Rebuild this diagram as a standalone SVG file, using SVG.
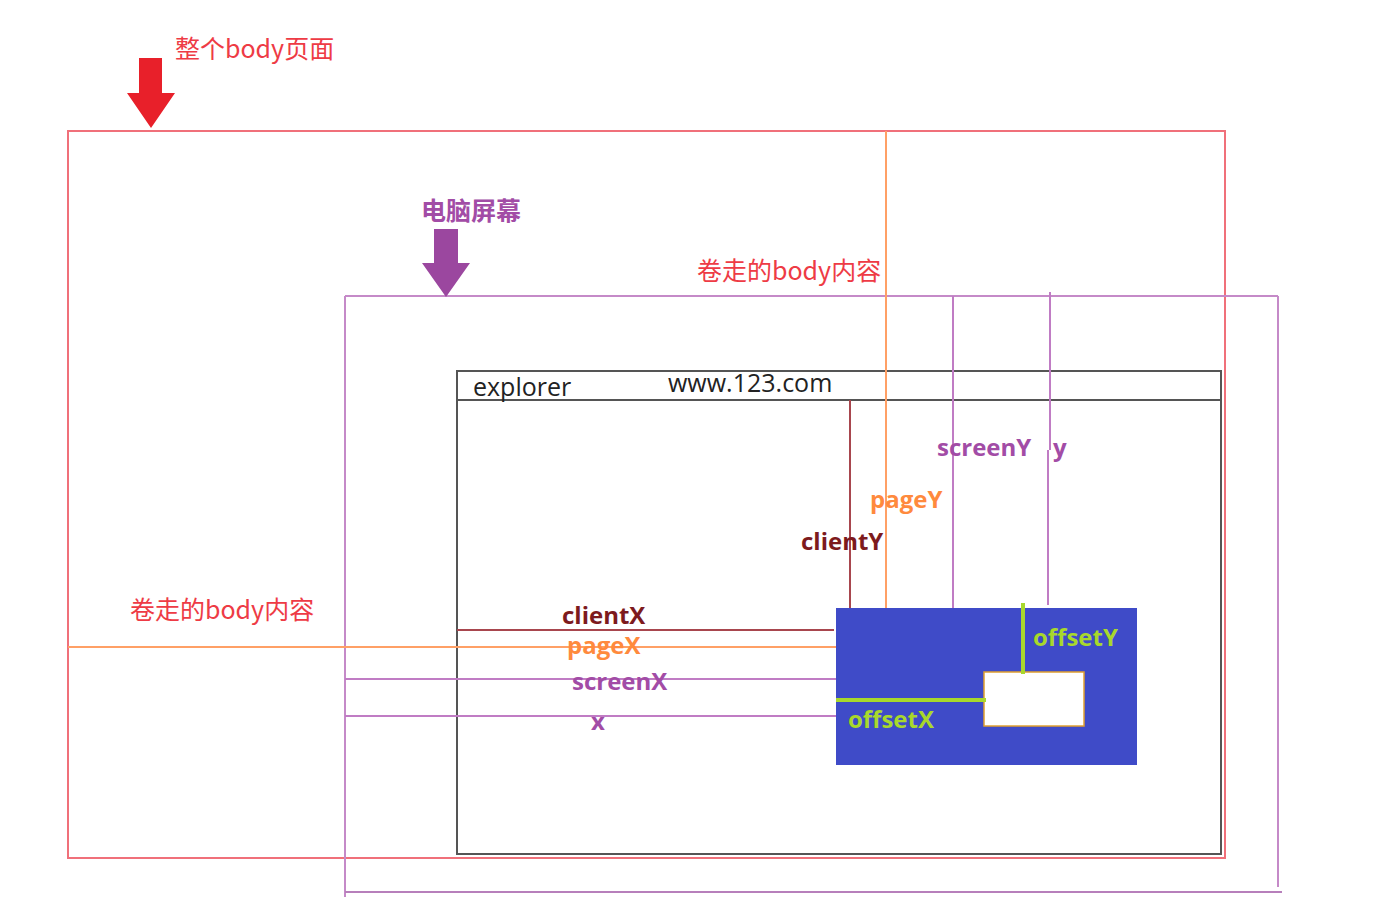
<svg xmlns="http://www.w3.org/2000/svg" width="1392" height="914" viewBox="0 0 1392 914">
<style>
.cn{font-family:"Noto Sans CJK SC","Noto Sans",sans-serif;font-size:25px}
.lb{font-family:"Open Sans","Noto Sans",sans-serif;font-size:24px;font-weight:bold}
.red{fill:#ee3b45}
.pur{fill:#a24ca6}
.ora{fill:#ff8a3d}
.drd{fill:#7d1a1d}
.grn{fill:#a8d82c}
</style>
<rect width="1392" height="914" fill="#ffffff"/>
<g id="body-page">
<rect x="68" y="131" width="1157" height="727" fill="none" stroke="#f0707a" stroke-width="2"/>
<polygon points="139,58 162,58 162,93 175,93 151,128 127,93 139,93" fill="#e8202a"/>
<text class="cn red" x="175" y="58">整个body页面</text>
</g>
<g id="screen">
<line x1="345" y1="296" x2="345" y2="897" stroke="#c58ac8" stroke-width="2"/>
<line x1="345" y1="296" x2="1278" y2="296" stroke="#c58ac8" stroke-width="2"/>
<line x1="1278" y1="296" x2="1278" y2="887" stroke="#c58ac8" stroke-width="2"/>
<line x1="345" y1="892" x2="1282" y2="892" stroke="#b77fbb" stroke-width="2"/>
<polygon points="434,229 458,229 458,263 470,263 446,297 422,263 434,263" fill="#9b479f"/>
<text class="cn pur" x="421" y="220" font-size="24" font-weight="bold">电脑屏幕</text>
</g>
<g id="scroll-top-label">
<text class="cn red" x="697" y="280">卷走的body内容</text>
</g>
<g id="scroll-left-label">
<text class="cn red" x="130" y="619">卷走的body内容</text>
</g>
<g id="explorer">
<rect x="457" y="371" width="764" height="483" fill="none" stroke="#555555" stroke-width="2"/>
<line x1="457" y1="400" x2="1221" y2="400" stroke="#555555" stroke-width="2"/>
<text x="473" y="396" font-family="Open Sans, Noto Sans, sans-serif" font-size="25" fill="#222">explorer</text>
<text x="668" y="392" font-family="Open Sans, Noto Sans, sans-serif" font-size="25" fill="#222">www.123.com</text>
</g>
<g id="connectors">
<line x1="886" y1="131" x2="886" y2="608" stroke="#ffa066" stroke-width="2"/>
<line x1="953" y1="296" x2="953" y2="608" stroke="#c07cc4" stroke-width="2"/>
<line x1="1050" y1="292" x2="1050" y2="450" stroke="#c07cc4" stroke-width="2"/>
<line x1="1048" y1="450" x2="1048" y2="605" stroke="#c07cc4" stroke-width="2"/>
<line x1="850" y1="400" x2="850" y2="608" stroke="#a8464e" stroke-width="2"/>
<line x1="457" y1="630" x2="834" y2="630" stroke="#a8464e" stroke-width="2"/>
<line x1="68" y1="647" x2="836" y2="647" stroke="#ffa066" stroke-width="2"/>
<line x1="345" y1="679" x2="836" y2="679" stroke="#c07cc4" stroke-width="2"/>
<line x1="345" y1="716" x2="836" y2="716" stroke="#c07cc4" stroke-width="2"/>
</g>
<g id="coord-labels">
<text class="lb drd" x="801" y="550">clientY</text>
<text class="lb ora" x="870" y="508">pageY</text>
<text class="lb pur" x="937" y="456">screenY</text>
<text class="lb pur" x="1053" y="456">y</text>
<text class="lb drd" x="562" y="624">clientX</text>
<text class="lb ora" x="567" y="654">pageX</text>
<text class="lb pur" x="572" y="690">screenX</text>
<text class="lb pur" x="591" y="730">x</text>
</g>
<g id="element">
<rect x="836" y="608" width="301" height="157" fill="#3f4bc8"/>
<rect x="984" y="672" width="100" height="54" fill="#ffffff" stroke="#e0a030" stroke-width="1.5"/>
<line x1="1023" y1="603" x2="1023" y2="674" stroke="#a8d82c" stroke-width="4"/>
<line x1="836" y1="700" x2="986" y2="700" stroke="#a8d82c" stroke-width="4"/>
<text class="lb grn" x="1033" y="646">offsetY</text>
<text class="lb grn" x="848" y="728">offsetX</text>
</g>
</svg>
